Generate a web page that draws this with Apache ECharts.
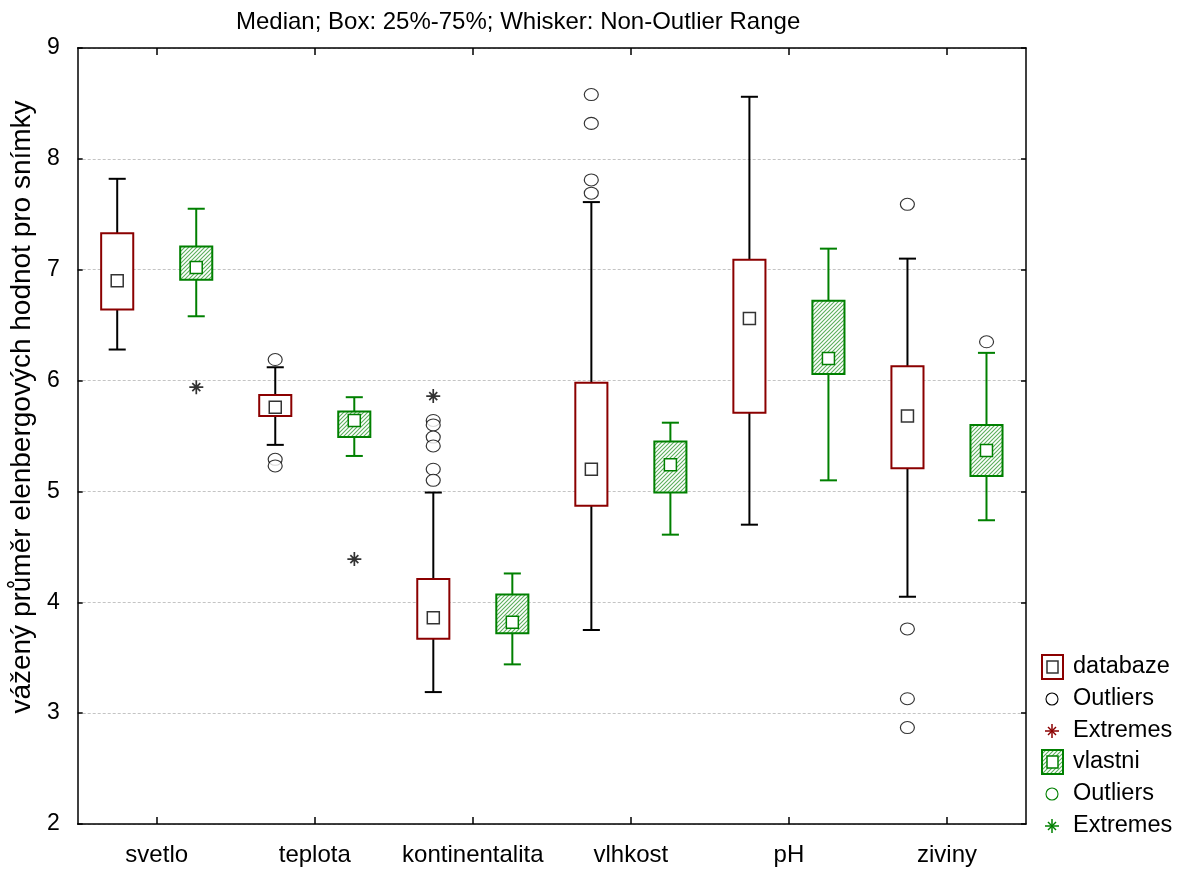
<!DOCTYPE html>
<html>
<head>
<meta charset="utf-8">
<script src="https://cdn.jsdelivr.net/npm/echarts@6/dist/echarts.min.js"></script>
<style>
  html, body { margin: 0; padding: 0; background: #fff; }
  #chart { width: 1183px; height: 870px; }
</style>
</head>
<body>
<div id="chart"></div>
<script>
// Categories (Ellenberg indicator values)
const categories = ['svetlo', 'teplota', 'kontinentalita', 'vlhkost', 'pH', 'ziviny'];
const yTicks = [2, 3, 4, 5, 6, 7, 8, 9];

// "databaze" group: whisker low, 25 %, median, 75 %, whisker high
const dbLow    = [6.28, 5.42, 3.19, 3.75, 4.70, 4.05];
const dbQ1     = [6.64, 5.68, 3.67, 4.87, 5.71, 5.21];
const dbMedian = [6.90, 5.76, 3.86, 5.20, 6.56, 5.68];
const dbQ3     = [7.33, 5.87, 4.21, 5.98, 7.09, 6.13];
const dbHigh   = [7.82, 6.12, 4.99, 7.61, 8.56, 7.10];
const dbOutliers = [
  [1, 6.19], [1, 5.29], [1, 5.23],
  [2, 5.64], [2, 5.60], [2, 5.49], [2, 5.41], [2, 5.20], [2, 5.10],
  [3, 8.58], [3, 8.32], [3, 7.81], [3, 7.69],
  [5, 7.59], [5, 3.76], [5, 3.13], [5, 2.87]
];
const dbExtremes = [[2, 5.86]];

// "vlastni" group
const vlLow    = [6.58, 5.32, 3.44, 4.61, 5.10, 4.74];
const vlQ1     = [6.91, 5.49, 3.72, 4.99, 6.06, 5.14];
const vlMedian = [7.02, 5.64, 3.82, 5.24, 6.20, 5.37];
const vlQ3     = [7.21, 5.72, 4.07, 5.45, 6.72, 5.60];
const vlHigh   = [7.55, 5.85, 4.26, 5.62, 7.19, 6.25];
const vlOutliers = [[5, 6.35]];
const vlExtremes = [[0, 5.94], [1, 4.39]];

const FONT = '"Liberation Sans", Arial, sans-serif';
const RED = '#8b0000';
const GREEN = '#008000';

const gridLeft = 76, gridRight = 157, gridTop = 48, gridBottom = 46;
const bandWidth = (1183 - gridLeft - gridRight) / categories.length;
const sideOffset = bandWidth * 0.25;

// diagonal hatch used to fill the "vlastni" boxes
function makeHatch() {
  const c = document.createElement('canvas');
  c.width = 4; c.height = 4;
  const g = c.getContext('2d');
  g.fillStyle = '#ffffff';
  g.fillRect(0, 0, 4, 4);
  g.strokeStyle = '#5cae5c';
  g.lineWidth = 1.1;
  g.beginPath();
  g.moveTo(-1, 5); g.lineTo(5, -1);
  g.moveTo(-1, 1); g.lineTo(1, -1);
  g.moveTo(3, 5); g.lineTo(5, 3);
  g.stroke();
  return c;
}
const hatchFill = { image: makeHatch(), repeat: 'repeat' };

function boxSeries(name, low, q1, med, q3, high, side, opts) {
  const data = categories.map((c, i) => [i, low[i], q1[i], med[i], q3[i], high[i]]);
  return {
    type: 'custom',
    name: name,
    data: data,
    encode: { x: 0, y: [1, 2, 3, 4, 5] },
    z: 3,
    renderItem: function (params, api) {
      const i = api.value(0);
      const band = api.size([1, 0])[0];
      const x = api.coord([i, 0])[0] + side * band * 0.25;
      const yv = k => api.coord([i, api.value(k)])[1];
      const yLow = yv(1), yQ1 = yv(2), yMed = yv(3), yQ3 = yv(4), yHigh = yv(5);
      const bw = band * 0.203, cw = band * 0.108, ms = 12;
      const wStyle = { stroke: opts.whisker, lineWidth: 2 };
      return {
        type: 'group',
        children: [
          { type: 'line', shape: { x1: x, y1: yQ3, x2: x, y2: yHigh }, style: wStyle },
          { type: 'line', shape: { x1: x, y1: yQ1, x2: x, y2: yLow }, style: wStyle },
          { type: 'line', shape: { x1: x - cw / 2, y1: yHigh, x2: x + cw / 2, y2: yHigh }, style: wStyle },
          { type: 'line', shape: { x1: x - cw / 2, y1: yLow, x2: x + cw / 2, y2: yLow }, style: wStyle },
          { type: 'rect', shape: { x: x - bw / 2, y: yQ3, width: bw, height: yQ1 - yQ3 },
            style: { fill: opts.fill, stroke: opts.box, lineWidth: 2 } },
          { type: 'rect', shape: { x: x - ms / 2, y: yMed - ms / 2, width: ms, height: ms },
            style: { fill: '#fff', stroke: opts.median, lineWidth: 1.5 } }
        ]
      };
    }
  };
}

const asteriskPath = 'path://M0 7L14 7M7 0L7 14M3 3L11 11M3 11L11 3';

function pointSeries(name, data, side, kind) {
  const s = {
    type: 'scatter',
    name: name,
    data: data,
    z: 5,
    symbolOffset: [side * sideOffset, 0]
  };
  if (kind === 'outlier') {
    s.symbol = 'circle';
    s.symbolSize = [14, 12];
    s.itemStyle = { color: '#fff', borderColor: '#000', borderWidth: 1.1 };
  } else {
    s.symbol = asteriskPath;
    s.symbolSize = 14;
    s.itemStyle = { color: '#000', borderColor: '#000', borderWidth: 1.7 };
  }
  return s;
}

// legend drawn as graphic elements (two groups with their own outlier/extreme keys)
const legX = 1052, legTextX = 1073;
const legRows = [667, 699, 731, 762, 794, 826];
function legendText(y, t) {
  return { type: 'text', x: legTextX, y: y, style: { text: t, fill: '#000', font: '23.5px ' + FONT, verticalAlign: 'middle', align: 'left' } };
}
function legendAsterisk(y, color) {
  const st = { stroke: color, lineWidth: 1.5 };
  return {
    type: 'group', x: legX, y: y,
    children: [
      { type: 'line', shape: { x1: -7, y1: 0, x2: 7, y2: 0 }, style: st },
      { type: 'line', shape: { x1: 0, y1: -7, x2: 0, y2: 7 }, style: st },
      { type: 'line', shape: { x1: -4, y1: -4, x2: 4, y2: 4 }, style: st },
      { type: 'line', shape: { x1: -4, y1: 4, x2: 4, y2: -4 }, style: st }
    ]
  };
}
const legendGraphics = [
  { type: 'rect', shape: { x: legX - 10, y: legRows[0] - 12, width: 21, height: 24 }, style: { fill: '#fff', stroke: RED, lineWidth: 2 } },
  { type: 'rect', shape: { x: legX - 5, y: legRows[0] - 6, width: 11, height: 12 }, style: { fill: '#fff', stroke: '#333', lineWidth: 1.5 } },
  legendText(legRows[0], 'databaze'),
  { type: 'circle', shape: { cx: legX, cy: legRows[1], r: 6 }, style: { fill: '#fff', stroke: '#000', lineWidth: 1.1 } },
  legendText(legRows[1], 'Outliers'),
  legendAsterisk(legRows[2], RED),
  legendText(legRows[2], 'Extremes'),
  { type: 'rect', shape: { x: legX - 10, y: legRows[3] - 12, width: 21, height: 24 }, style: { fill: hatchFill, stroke: GREEN, lineWidth: 2 } },
  { type: 'rect', shape: { x: legX - 5, y: legRows[3] - 6, width: 11, height: 12 }, style: { fill: '#fff', stroke: GREEN, lineWidth: 1.5 } },
  legendText(legRows[3], 'vlastni'),
  { type: 'circle', shape: { cx: legX, cy: legRows[4], r: 6 }, style: { fill: '#fff', stroke: GREEN, lineWidth: 1.1 } },
  legendText(legRows[4], 'Outliers'),
  legendAsterisk(legRows[5], GREEN),
  legendText(legRows[5], 'Extremes')
];

const axisLineStyle = { color: '#000', width: 1.5 };
function catTicks() {
  return { show: true, inside: true, alignWithLabel: true, interval: 0, length: 7,
    lineStyle: { color: '#000', width: 1.5 } };
}

const option = {
  animation: false,
  backgroundColor: '#fff',
  textStyle: { fontFamily: FONT },
  title: {
    text: 'Median; Box: 25%-75%; Whisker: Non-Outlier Range',
    left: 231, top: 5,
    textStyle: { fontSize: 24, fontWeight: 'normal', color: '#000', fontFamily: FONT }
  },
  grid: { left: gridLeft, right: gridRight, top: gridTop, bottom: gridBottom },
  xAxis: [
    {
      type: 'category', data: categories, position: 'bottom',
      axisLine: { show: true, lineStyle: axisLineStyle },
      axisTick: catTicks(),
      axisLabel: { fontSize: 24, color: '#000', margin: 19, interval: 0, fontFamily: FONT },
      splitLine: { show: false }
    },
    {
      type: 'category', data: categories, position: 'top',
      axisLine: { show: true, lineStyle: axisLineStyle },
      axisTick: catTicks(),
      axisLabel: { show: false, interval: 0 },
      splitLine: { show: false }
    }
  ],
  yAxis: [
    {
      type: 'value', min: yTicks[0], max: yTicks[yTicks.length - 1], interval: 1, position: 'left',
      name: 'vážený průměr elenbergových hodnot pro snímky',
      nameLocation: 'middle', nameGap: 30,
      nameTextStyle: { fontSize: 28, color: '#000', fontFamily: FONT, padding: [0, 0, 0, 58] },
      axisLine: { show: true, lineStyle: axisLineStyle },
      axisTick: { show: true, inside: true, length: 5, lineStyle: { color: '#000', width: 1.5 } },
      axisLabel: { fontSize: 23, color: '#000', margin: 18, fontFamily: FONT },
      splitLine: { show: true, lineStyle: { color: '#c4c4c4', type: [3, 2], width: 1 } }
    },
    {
      type: 'value', min: yTicks[0], max: yTicks[yTicks.length - 1], interval: 1, position: 'right',
      axisLine: { show: true, lineStyle: axisLineStyle },
      axisTick: { show: true, inside: true, length: 5, lineStyle: { color: '#000', width: 1.5 } },
      axisLabel: { show: false },
      splitLine: { show: false }
    }
  ],
  graphic: legendGraphics,
  series: [
    boxSeries('databaze', dbLow, dbQ1, dbMedian, dbQ3, dbHigh, -1,
      { whisker: '#000', box: RED, fill: '#fff', median: '#333' }),
    boxSeries('vlastni', vlLow, vlQ1, vlMedian, vlQ3, vlHigh, 1,
      { whisker: GREEN, box: GREEN, fill: hatchFill, median: GREEN }),
    pointSeries('databaze Outliers', dbOutliers, -1, 'outlier'),
    pointSeries('databaze Extremes', dbExtremes, -1, 'extreme'),
    pointSeries('vlastni Outliers', vlOutliers, 1, 'outlier'),
    pointSeries('vlastni Extremes', vlExtremes, 1, 'extreme')
  ]
};

const chart = echarts.init(document.getElementById('chart'), null, { renderer: 'canvas' });
chart.setOption(option);
</script>
</body>
</html>
